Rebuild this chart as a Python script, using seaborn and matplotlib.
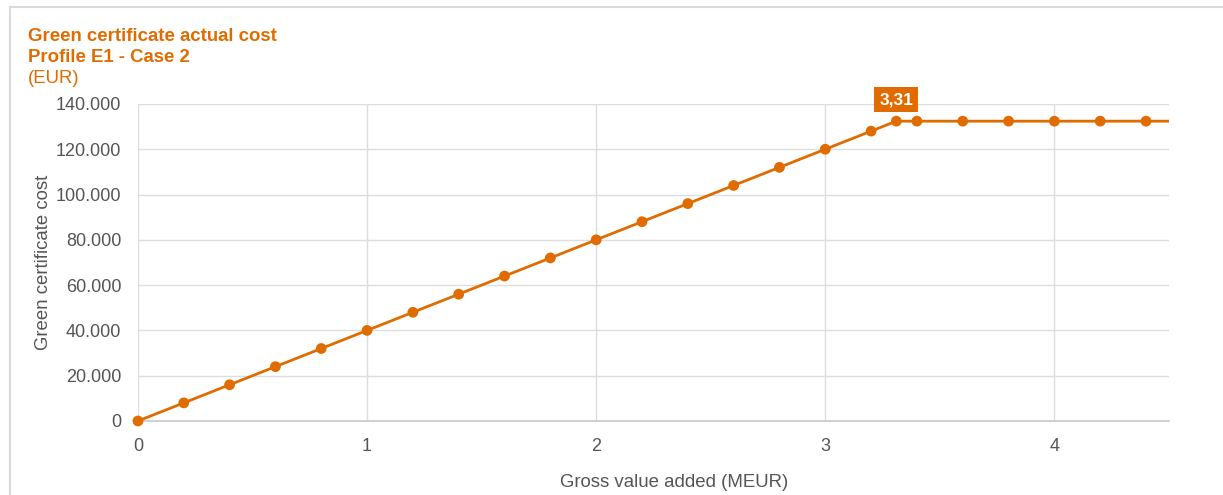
import numpy as np
import pandas as pd
import matplotlib
matplotlib.use("Agg")
import matplotlib.pyplot as plt
from matplotlib.ticker import FuncFormatter
from matplotlib.lines import Line2D
import seaborn as sns

# data
gva = [0, 0.2, 0.4, 0.6, 0.8, 1.0, 1.2, 1.4, 1.6, 1.8, 2.0, 2.2, 2.4, 2.6, 2.8,
       3.0, 3.2, 3.31, 3.4, 3.6, 3.8, 4.0, 4.2, 4.4, 4.5]
cost = [0, 8000, 16000, 24000, 32000, 40000, 48000, 56000, 64000, 72000, 80000,
        88000, 96000, 104000, 112000, 120000, 128000, 132400, 132400, 132400,
        132400, 132400, 132400, 132400, 132400]
marked = [True] * 24 + [False]
cap_x = 3.31
cap_label = "3,31"

orange = "#E06C00"
grey_txt = "#555555"

sns.set_style("white")
plt.rcParams['font.family'] = ['Liberation Sans', 'DejaVu Sans']

df = pd.DataFrame({"gva": gva, "cost": cost, "marked": marked})

fig = plt.figure(figsize=(12.23, 4.95), dpi=100)
ax = fig.add_axes([0.1128, 0.1495, 0.843, 0.6405])

sns.lineplot(data=df, x="gva", y="cost", color=orange, linewidth=2, ax=ax)
pts = df[df["marked"]]
sns.scatterplot(data=pts, x="gva", y="cost", color=orange, s=60, edgecolor="none",
                ax=ax, zorder=3, clip_on=False)

ax.set_xlim(0, 4.5)
ax.set_ylim(0, 140000)
ax.set_xticks([0, 1, 2, 3, 4])
ax.set_yticks(np.arange(0, 140001, 20000))
ax.yaxis.set_major_formatter(FuncFormatter(lambda v, p: f"{int(v):,}".replace(",", ".")))
ax.grid(True, color="#dddddd", linewidth=1)
for s in ["top", "right", "left"]:
    ax.spines[s].set_visible(False)
ax.spines["bottom"].set_color("#c8c8c8")
ax.spines["bottom"].set_linewidth(1.2)
ax.tick_params(axis="x", length=0, labelsize=13, colors=grey_txt, pad=12)
ax.tick_params(axis="y", length=0, labelsize=13, colors=grey_txt, pad=12)
ax.set_xlabel("Gross value added (MEUR)", fontsize=13.4, color=grey_txt, labelpad=14)
ax.xaxis.label.set_x(0.52)
ax.set_ylabel("Green certificate cost", fontsize=13.4, color=grey_txt)
ax.yaxis.set_label_coords(-0.083, 0.5)

cap_y = df.loc[df["gva"] == cap_x, "cost"].iloc[0]
ax.annotate(cap_label, xy=(cap_x, cap_y), xytext=(0, 15.5), textcoords="offset points",
            ha="center", va="center", fontsize=12.5, fontweight="bold", color="white",
            bbox=dict(boxstyle="square,pad=0.3", fc=orange, ec="none"))

fig.text(0.023, 0.927, "Green certificate actual cost", fontsize=13.4, fontweight="bold",
         color=orange, va="center")
fig.text(0.023, 0.884, "Profile E1 - Case 2", fontsize=13.4, fontweight="bold",
         color=orange, va="center")
fig.text(0.023, 0.842, "(EUR)", fontsize=13.4, color=orange, va="center")

# outer frame lines
fig.add_artist(Line2D([10 / 1223, 1], [1 - 7 / 495, 1 - 7 / 495], color="#d9d9d9",
                      linewidth=1.5, transform=fig.transFigure))
fig.add_artist(Line2D([10 / 1223, 10 / 1223], [0, 1 - 7 / 495], color="#d9d9d9",
                      linewidth=1.5, transform=fig.transFigure))

fig.savefig("out.png", dpi=100)
